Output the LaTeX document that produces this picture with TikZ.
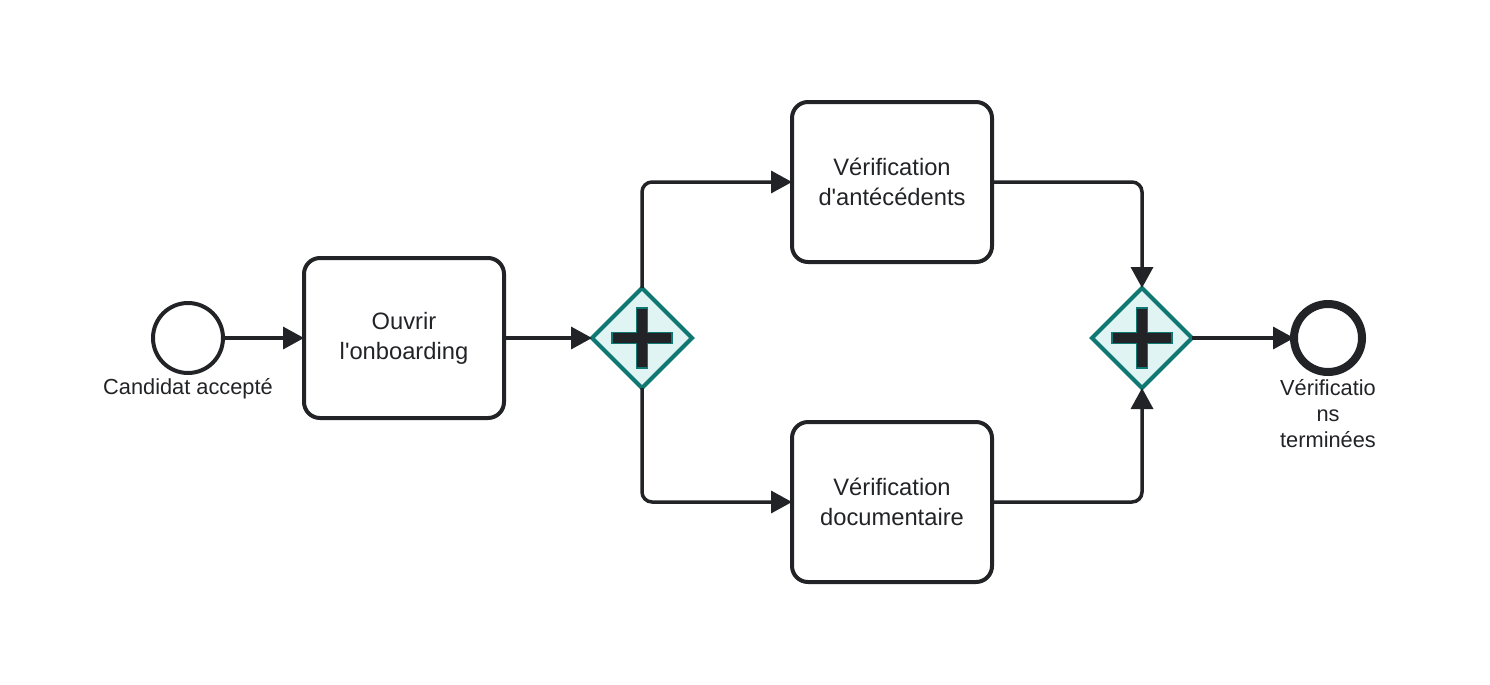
\documentclass[tikz,border=0pt]{standalone}
\usepackage{fontspec}
\setmainfont{Liberation Sans}
\usetikzlibrary{shapes,arrows.meta,calc,positioning}
\definecolor{ink}{HTML}{222326}
\definecolor{gwteal}{HTML}{0F7872}
\definecolor{gwfill}{HTML}{E1F4F4}

\begin{document}
\begin{tikzpicture}[
            node distance = 1.6cm,
            event/.style={
                draw = ink,
                circle,
                line width = 0.08cm,
                minimum size = 1.4cm,
                inner sep = 0,
                outer sep = 0
            },
            task/.style={
                draw = ink,
                rectangle,
                rounded corners = 0.32cm,
                line width = 0.08cm,
                minimum width = 4cm,
                minimum height = 3.2cm,
                align = center,
                text = ink,
                font = \fontsize{13.5}{17}\selectfont,
                outer sep = 0
            },
            gateway/.style={
                draw = gwteal,
                fill = gwfill,
                diamond,
                line width = 0.08cm,
                minimum size = 2cm,
                inner sep = 0,
                outer sep = 0
            },
            caption/.style={
                align = center,
                text = ink,
                font = \fontsize{12.4}{14.9}\selectfont,
                inner sep = 0
            },
            flow/.style={
                draw = ink,
                line width = 0.07cm,
                rounded corners = 0.2cm,
                -{Triangle[length=0.42cm, width=0.44cm]}
            }
        ]
        \useasboundingbox (0,0) rectangle (29.8,-13.68);

        \node[event] (start) at (3.76,-6.76) {};
        \node[caption, below=0.1cm of start] (startlbl) {Candidat accepté};
        \node[task, right=1.62cm of start] (open) {Ouvrir\\l\textquotesingle onboarding};
        \node[gateway, right=1.76cm of open] (split) {};
        \node[task, right=2cm of split, yshift=3.12cm] (background) {Vérification\\d\textquotesingle antécédents};
        \node[task, right=2cm of split, yshift=-3.28cm] (docs) {Vérification\\documentaire};
        \node[gateway, right=8cm of split] (join) {};
        \node[event, line width=0.16cm, minimum size=1.36cm, right=2.04cm of join] (finish) {};
        \node[caption, below=0.14cm of finish] (finishlbl) {Vérificatio\\ns\\terminées};

        \foreach \g in {split, join}
            \filldraw[fill=ink, draw=gwteal, line width=0.03cm]
                (\g) ++(-0.11,0.6) -- ++(0.22,0) -- ++(0,-0.49) -- ++(0.49,0)
                -- ++(0,-0.22) -- ++(-0.49,0) -- ++(0,-0.49) -- ++(-0.22,0)
                -- ++(0,0.49) -- ++(-0.49,0) -- ++(0,0.22) -- ++(0.49,0) -- cycle;

        \draw[flow] (start) -- (open);
        \draw[flow] (open) -- (split);
        \draw[flow] (split.north) |- (background.west);
        \draw[flow] (split.south) |- (docs.west);
        \draw[flow] (background.east) -| (join.north);
        \draw[flow] (docs.east) -| (join.south);
        \draw[flow] (join) -- (finish);
    \end{tikzpicture}
\end{document}
